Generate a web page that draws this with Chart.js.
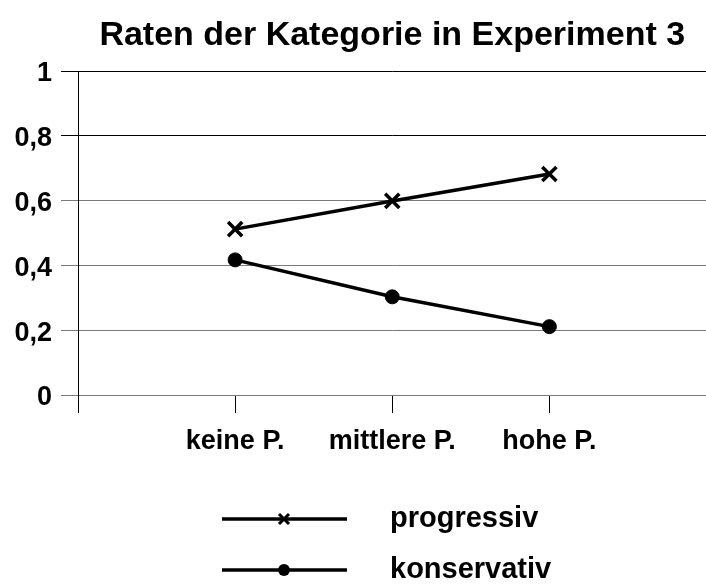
<!DOCTYPE html>
<html>
<head>
<meta charset="utf-8">
<title>Raten der Kategorie in Experiment 3</title>
<script src="https://cdn.jsdelivr.net/npm/chart.js@4"></script>
<style>
  html, body { margin: 0; padding: 0; background: #fff; overflow: hidden; }
  #wrap { position: relative; width: 720px; height: 586px; }
</style>
</head>
<body>
<div id="wrap"><canvas id="chart" width="720" height="586"></canvas></div>
<script>
// Daten
const kategorien = ['keine P.', 'mittlere P.', 'hohe P.'];
const progressiv = [0.512, 0.599, 0.682];
const konservativ = [0.417, 0.303, 0.211];
const yTicks = [0, 0.2, 0.4, 0.6, 0.8, 1];

const FONT = "'Liberation Sans', Arial, sans-serif";

// leere Kategorien links und rechts wie im Original
const achse = ['', ...kategorien, ''];
const pad = arr => [null, ...arr, null];

// Legende untereinander, Linie mit Marker in der Mitte
const legendePlugin = {
    id: 'legendeUnten',
    afterDraw(chart) {
        const ctx = chart.ctx;
        const zeilen = [519, 570];
        chart.data.datasets.forEach((ds, i) => {
            const y = zeilen[i];
            ctx.save();
            ctx.strokeStyle = ds.borderColor;
            ctx.fillStyle = ds.borderColor;
            ctx.lineWidth = ds.borderWidth;
            ctx.beginPath();
            ctx.moveTo(222, y);
            ctx.lineTo(347, y);
            ctx.stroke();

            const mx = 284;
            if (ds.pointStyle === 'crossRot') {
                const r = 5;
                ctx.lineWidth = 3;
                ctx.beginPath();
                ctx.moveTo(mx - r, y - r);
                ctx.lineTo(mx + r, y + r);
                ctx.moveTo(mx + r, y - r);
                ctx.lineTo(mx - r, y + r);
                ctx.stroke();
            } else {
                ctx.beginPath();
                ctx.arc(mx, y, 6, 0, Math.PI * 2);
                ctx.fill();
            }

            ctx.font = 'bold 29px ' + FONT;
            ctx.textBaseline = 'alphabetic';
            ctx.textAlign = 'left';
            ctx.fillText(ds.label, 390, y + 8);
            ctx.restore();
        });
    }
};

new Chart(document.getElementById('chart'), {
    type: 'line',
    data: {
        labels: achse,
        datasets: [
            {
                label: 'progressiv',
                data: pad(progressiv),
                borderColor: '#000',
                backgroundColor: '#000',
                borderWidth: 3.5,
                pointStyle: 'crossRot',
                pointRadius: 10,
                pointBorderWidth: 3.5,
                tension: 0
            },
            {
                label: 'konservativ',
                data: pad(konservativ),
                borderColor: '#000',
                backgroundColor: '#000',
                borderWidth: 3.5,
                pointStyle: 'circle',
                pointRadius: 7,
                pointBorderWidth: 1,
                tension: 0
            }
        ]
    },
    options: {
        responsive: false,
        animation: false,
        events: [],
        layout: { padding: { left: 0, right: 8, top: 0, bottom: 131 } },
        plugins: {
            legend: { display: false },
            tooltip: { enabled: false },
            title: {
                display: true,
                text: 'Raten der Kategorie in Experiment 3',
                color: '#000',
                fullSize: false,
                font: { family: FONT, size: 34, weight: 'bold' },
                padding: { top: 15, bottom: 15.2 }
            }
        },
        scales: {
            x: {
                type: 'category',
                offset: false,
                afterFit: s => { s.height = 60; },
                border: { display: false },
                grid: {
                    drawOnChartArea: false,
                    drawTicks: true,
                    tickLength: 18,
                    color: '#000',
                    lineWidth: 1
                },
                ticks: {
                    color: '#000',
                    padding: 12,
                    maxRotation: 0,
                    autoSkip: false,
                    font: { family: FONT, size: 27, weight: 'bold' }
                }
            },
            y: {
                min: 0,
                max: 1,
                afterFit: s => { s.width = 78; },
                afterBuildTicks: s => { s.ticks = yTicks.map(v => ({ value: v })); },
                border: { display: true, color: '#000', width: 1 },
                grid: {
                    tickLength: 17,
                    lineWidth: 1,
                    color: c => (c.tick && c.tick.value >= 0.8 ? '#000' : '#7a7a7a')
                },
                ticks: {
                    color: '#000',
                    padding: 9,
                    labelOffset: 3,
                    font: { family: FONT, size: 27, weight: 'bold' },
                    callback: v => String(Math.round(v * 10) / 10).replace('.', ',')
                }
            }
        }
    },
    plugins: [legendePlugin]
});
</script>
</body>
</html>
